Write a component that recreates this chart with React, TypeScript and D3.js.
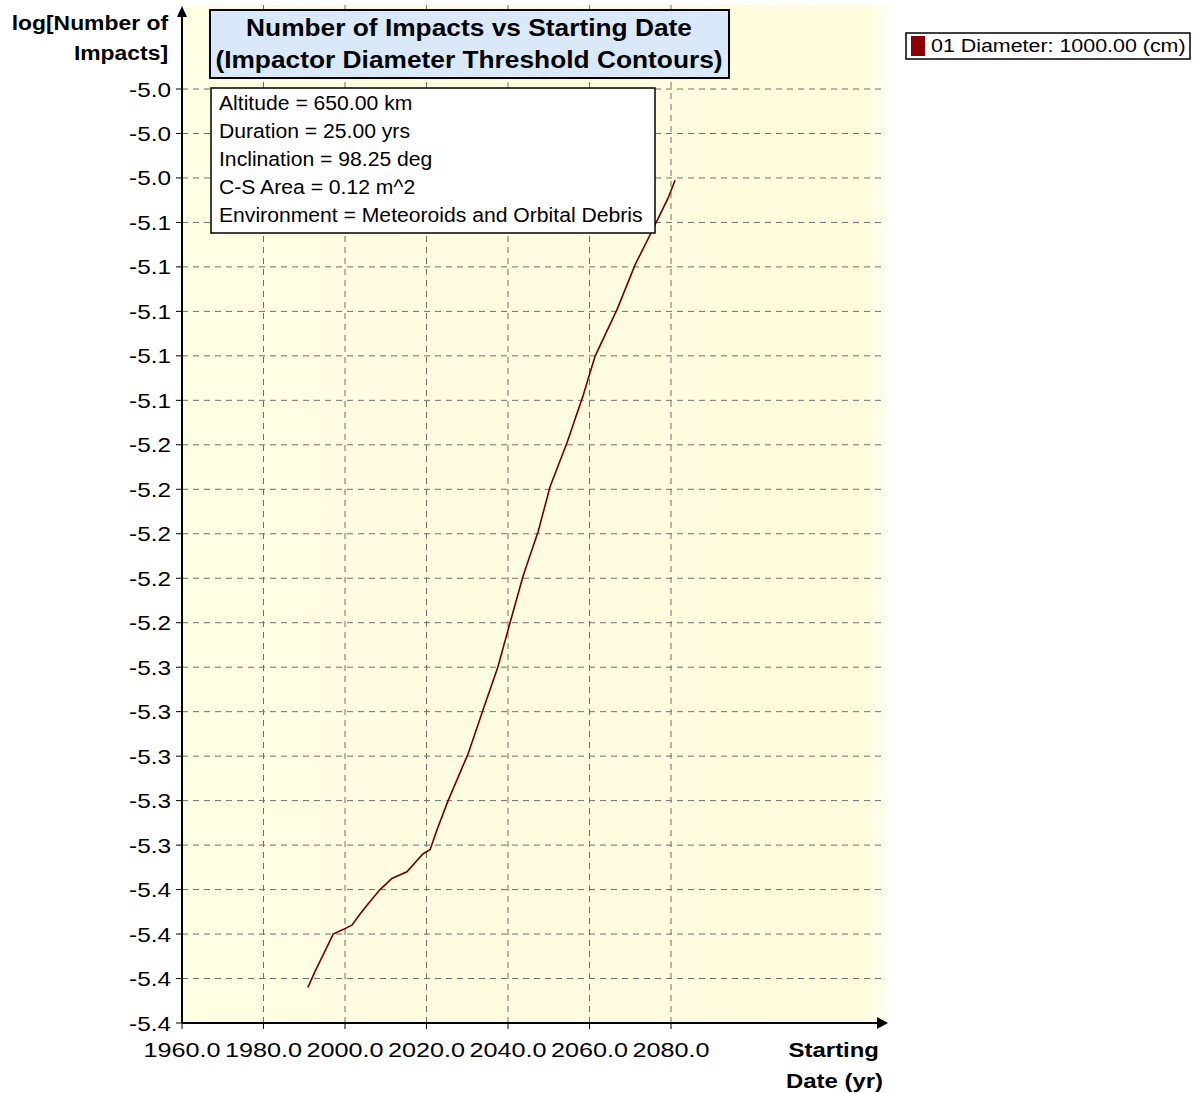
import React from "react";
import * as d3 from "d3";

const years = [1990.9, 1992.6, 1995.8, 1997.1, 1999.5, 2001.7, 2003.7, 2005.4, 2008.6, 2011.5, 2015.2, 2019.1, 2020.9, 2022.6, 2025.3, 2030.2, 2033.9, 2037.5, 2040.5, 2043.7, 2047.4, 2050.3, 2054.5, 2058.4, 2061.4, 2066.8, 2071.2, 2075.3, 2079.3, 2081.0];
const logImpacts = [-5.404, -5.397, -5.385, -5.380, -5.378, -5.376, -5.371, -5.367, -5.360, -5.355, -5.352, -5.344, -5.342, -5.333, -5.320, -5.299, -5.279, -5.260, -5.240, -5.219, -5.199, -5.179, -5.159, -5.138, -5.120, -5.099, -5.079, -5.064, -5.049, -5.041];

const xTicks = [1960, 1980, 2000, 2020, 2040, 2060, 2080];
const yTicks = [-5.0, -5.02, -5.04, -5.06, -5.08, -5.1, -5.12, -5.14, -5.16, -5.18, -5.2, -5.22, -5.24, -5.26, -5.28, -5.3, -5.32, -5.34, -5.36, -5.38, -5.4, -5.42];

const titleLines = ["Number of Impacts vs Starting Date", "(Impactor Diameter Threshold Contours)"];
const infoLines = ["Altitude = 650.00 km", "Duration = 25.00 yrs", "Inclination = 98.25 deg", "C-S Area = 0.12 m^2", "Environment = Meteoroids and Orbital Debris"];
const legendLabel = "01 Diameter: 1000.00 (cm)";
const yTitle = ["log[Number of", "Impacts]"];
const xTitle = ["Starting", "Date (yr)"];

const FONT = "'Liberation Sans', Arial, sans-serif";

function T({ x, y, anchor = "start", size, bold = false, sx = 1, children }: any) {
  return (
    <text
      transform={`translate(${x},${y}) scale(${sx},1)`}
      textAnchor={anchor}
      fontSize={size}
      fontWeight={bold ? "bold" : "normal"}
      fontFamily={FONT}
      fill="#000"
    >
      {children}
    </text>
  );
}

export default function App() {
  const left = 182, right = 887, top = 5, bottom = 1023;
  const x = d3.scaleLinear().domain([1960, 2080]).range([182, 671]);
  const y = d3.scaleLinear().domain([-5.42, -5.0]).range([1023, 89]);
  const line = d3.line<number>().x((_, i) => x(years[i])).y((d) => y(d));
  const pathD = line(logImpacts) || "";

  return (
    <svg width={1199} height={1093} style={{ position: "absolute", left: 0, top: 0, background: "#fff" }}>
      <defs>
        <linearGradient id="bg" x1="0" x2="1" y1="0" y2="0">
          <stop offset="0" stopColor="#FFFDE2" />
          <stop offset="0.97" stopColor="#FFFCDE" />
          <stop offset="1" stopColor="#FFFEEE" />
        </linearGradient>
      </defs>
      <rect x={left} y={top} width={right - left} height={bottom - top} fill="url(#bg)" />

      {/* gridlines */}
      {yTicks.slice(0, -1).map((t) => (
        <line key={"hg" + t} x1={left} x2={right - 2} y1={y(t)} y2={y(t)} stroke="#707068" strokeWidth={1} strokeDasharray="6,5" />
      ))}
      {xTicks.slice(1).map((t) => (
        <line key={"vg" + t} x1={x(t)} x2={x(t)} y1={top} y2={bottom} stroke="#707068" strokeWidth={1} strokeDasharray="6,5" />
      ))}

      {/* data line */}
      <path d={pathD} fill="none" stroke="#700000" strokeWidth={1.6} />

      {/* axes */}
      <line x1={left} x2={left} y1={bottom} y2={14} stroke="#000" strokeWidth={2} />
      <path d={`M${left - 5},${17} L${left},${6} L${left + 5},${17} Z`} fill="#000" />
      <line x1={left} x2={880} y1={bottom} y2={bottom} stroke="#000" strokeWidth={2} />
      <path d={`M${877},${bottom - 6} L${888},${bottom} L${877},${bottom + 6} Z`} fill="#000" />

      {/* y ticks */}
      {yTicks.map((t) => (
        <g key={"yt" + t}>
          <line x1={left - 6} x2={left} y1={y(t)} y2={y(t)} stroke="#000" strokeWidth={1} />
          <T x={171} y={y(t) + 7.5} anchor="end" size={21} sx={1.16}>{t.toFixed(1)}</T>
        </g>
      ))}
      {/* x ticks */}
      {xTicks.map((t) => (
        <g key={"xt" + t}>
          <line x1={x(t)} x2={x(t)} y1={bottom} y2={bottom + 6} stroke="#000" strokeWidth={1} />
          <T x={x(t)} y={1057} anchor="middle" size={21} sx={1.2}>{t.toFixed(1)}</T>
        </g>
      ))}

      {/* axis titles */}
      <T x={168} y={30} anchor="end" size={21} bold sx={1.09}>{yTitle[0]}</T>
      <T x={168} y={60} anchor="end" size={21} bold sx={1.09}>{yTitle[1]}</T>
      <T x={879} y={1057} anchor="end" size={21} bold sx={1.14}>{xTitle[0]}</T>
      <T x={883} y={1088} anchor="end" size={21} bold sx={1.14}>{xTitle[1]}</T>

      {/* title box */}
      <rect x={210} y={10} width={519} height={68} fill="#DAE9F9" stroke="#000" strokeWidth={2} />
      <T x={469} y={36} anchor="middle" size={23.5} bold sx={1.12}>{titleLines[0]}</T>
      <T x={469} y={68} anchor="middle" size={23.5} bold sx={1.12}>{titleLines[1]}</T>

      {/* info box */}
      <rect x={211} y={88} width={444} height={145} fill="#fff" stroke="#000" strokeWidth={1.5} />
      {infoLines.map((s, i) => (
        <T key={s} x={219} y={110 + i * 28} size={19.5} sx={1.085}>{s}</T>
      ))}

      {/* legend */}
      <rect x={906} y={33} width={284} height={26} fill="#fff" stroke="#000" strokeWidth={1.5} />
      <rect x={911} y={36} width={14} height={20} fill="#8B0000" />
      <T x={931} y={52} size={18} sx={1.19}>{legendLabel}</T>
    </svg>
  );
}
